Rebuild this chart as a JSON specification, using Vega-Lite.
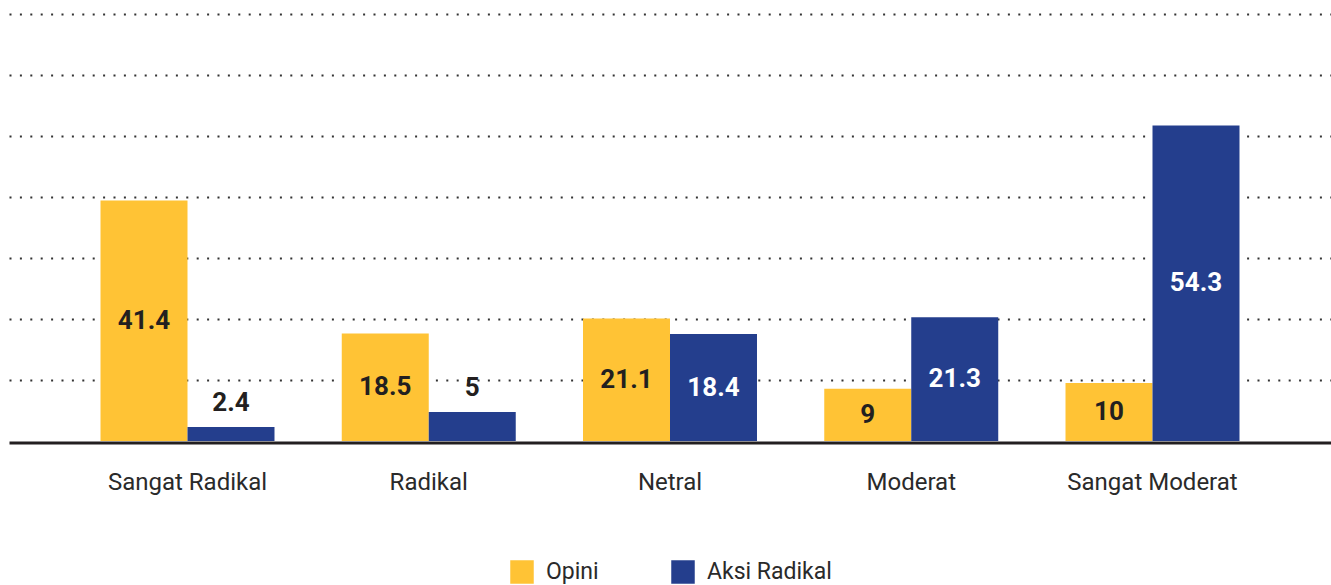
{
  "$schema": "https://vega.github.io/schema/vega-lite/v6.json",
  "width": 1322,
  "height": 441,
  "autosize": {"type": "none"},
  "padding": {"left": 9, "top": 0, "right": 0, "bottom": 144},
  "background": "white",
  "config": {"view": {"stroke": null}, "font": "Roboto"},
  "data": {
    "values": [
      {"kategori": "Sangat Radikal", "seri": "Opini", "nilai": 41.4},
      {"kategori": "Sangat Radikal", "seri": "Aksi Radikal", "nilai": 2.4},
      {"kategori": "Radikal", "seri": "Opini", "nilai": 18.5},
      {"kategori": "Radikal", "seri": "Aksi Radikal", "nilai": 5},
      {"kategori": "Netral", "seri": "Opini", "nilai": 21.1},
      {"kategori": "Netral", "seri": "Aksi Radikal", "nilai": 18.4},
      {"kategori": "Moderat", "seri": "Opini", "nilai": 9},
      {"kategori": "Moderat", "seri": "Aksi Radikal", "nilai": 21.3},
      {"kategori": "Sangat Moderat", "seri": "Opini", "nilai": 10},
      {"kategori": "Sangat Moderat", "seri": "Aksi Radikal", "nilai": 54.3}
    ]
  },
  "encoding": {
    "x": {
      "field": "kategori",
      "type": "nominal",
      "sort": ["Sangat Radikal", "Radikal", "Netral", "Moderat", "Sangat Moderat"],
      "scale": {"paddingInner": 0.2788, "paddingOuter": 0.3793},
      "axis": {
        "title": null,
        "labelAngle": 0,
        "labelFont": "Roboto",
        "labelFontSize": 24,
        "labelColor": "#2a2a2a",
        "labelPadding": 28,
        "ticks": false,
        "tickSize": 0,
        "domainColor": "#231f20",
        "domainWidth": 3,
        "offset": 1.5,
        "grid": false
      }
    },
    "xOffset": {"field": "seri", "type": "nominal", "sort": ["Opini", "Aksi Radikal"]}
  },
  "layer": [
    {
      "mark": {"type": "bar"},
      "encoding": {
        "y": {
          "field": "nilai",
          "type": "quantitative",
          "scale": {"domain": [0, 75.9], "nice": false, "zero": true},
          "axis": {
            "title": null,
            "labels": false,
            "ticks": false,
            "domain": false,
            "grid": true,
            "values": [10.5, 21, 31.5, 42, 52.5, 63, 73.5],
            "gridColor": "#333333",
            "gridWidth": 2,
            "gridDash": [2, 8.4],
            "gridOpacity": 1
          }
        },
        "color": {
          "field": "seri",
          "type": "nominal",
          "scale": {"domain": ["Opini", "Aksi Radikal"], "range": ["#FFC335", "#243E8D"]},
          "legend": {
            "title": null,
            "orient": "none",
            "legendX": 501,
            "legendY": 560,
            "direction": "horizontal",
            "symbolType": "square",
            "symbolSize": 552,
            "symbolStrokeWidth": 0,
            "symbolOpacity": 1,
            "labelFont": "Roboto",
            "labelFontSize": 23,
            "labelColor": "#2a2a2a",
            "labelOffset": 12,
            "columnPadding": 72
          }
        }
      }
    },
    {
      "transform": [
        {"filter": "datum.nilai >= 8"},
        {"calculate": "datum.nilai / 2", "as": "tengah"}
      ],
      "mark": {"type": "text", "font": "Roboto", "fontWeight": "bold", "fontSize": 26, "baseline": "middle"},
      "encoding": {
        "y": {"field": "tengah", "type": "quantitative"},
        "text": {"field": "nilai", "type": "nominal"},
        "color": {
          "condition": {"test": "datum.seri === 'Aksi Radikal'", "value": "#ffffff"},
          "value": "#231f20"
        }
      }
    },
    {
      "transform": [{"filter": "datum.nilai < 8"}],
      "mark": {"type": "text", "font": "Roboto", "fontWeight": "bold", "fontSize": 26, "baseline": "middle", "dy": -24},
      "encoding": {
        "y": {"field": "nilai", "type": "quantitative"},
        "text": {"field": "nilai", "type": "nominal"},
        "color": {"value": "#231f20"}
      }
    }
  ]
}
